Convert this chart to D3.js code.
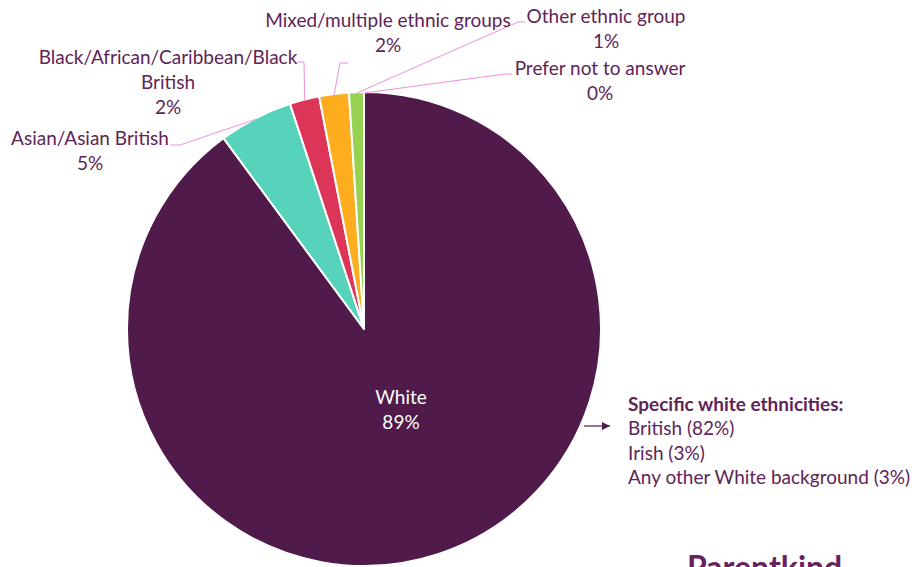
<!DOCTYPE html>
<html>
<head>
<meta charset="utf-8">
<script src="https://cdn.jsdelivr.net/npm/d3@7"></script>
<style>
  html, body { margin: 0; padding: 0; background: #fff; }
  svg { display: block; }
  text { font-family: Lato, "Open Sans", sans-serif; }
</style>
</head>
<body>
<svg id="chart" width="923" height="567"></svg>
<script>
// Ethnicity breakdown of respondents (percent)
const categories = ["White", "Asian/Asian British", "Black/African/Caribbean/Black British",
                    "Mixed/multiple ethnic groups", "Other ethnic group", "Prefer not to answer"];
const values = [89, 5, 2, 2, 1, 0];
const colors = ["#501a4a", "#56d3ba", "#dc3558", "#fdad1e", "#96d150", "#f08fe0"];

// Breakdown of the White slice
const whiteDetailTitle = "Specific white ethnicities:";
const whiteDetail = ["British (82%)", "Irish (3%)", "Any other White background (3%)"];

// Outside label layout: text lines, anchor point and elbow of the leader line
const labelLines = [
  null,
  ["Asian/Asian British"],
  ["Black/African/Caribbean/Black", "British"],
  ["Mixed/multiple ethnic groups"],
  ["Other ethnic group"],
  ["Prefer not to answer"]
];
const labelPos = [null, [90, 139], [168, 58], [388, 21], [606, 17], [600, 69]];
const leaderElbow = [null, [[170, 145], [180, 145]], [[297, 62], [304, 62]],
                     [[348, 63], [340, 63]], [[525, 22], [518, 22]], [[512, 74], [505, 74]]];

const textColor = "#5e2457";
const leaderColor = "#f08fe0";
const fontSize = 19;

const svg = d3.select("#chart");
const cx = 364, cy = 329, r = 237;

const pie = d3.pie().sort(null).value(d => d)(values);
const arc = d3.arc().innerRadius(0).outerRadius(r);

const g = svg.append("g").attr("transform", `translate(${cx},${cy})`);

g.selectAll("path.slice")
  .data(pie)
  .join("path")
  .attr("class", "slice")
  .attr("d", arc)
  .attr("fill", (d, i) => colors[i])
  .attr("stroke", "#fff")
  .attr("stroke-width", 2)
  .attr("stroke-linejoin", "round");

// Leader lines from each small slice's outer edge to its label
pie.forEach((d, i) => {
  if (i === 0) return;
  const mid = (d.startAngle + d.endAngle) / 2;
  const px = cx + Math.sin(mid) * (r - 1);
  const py = cy - Math.cos(mid) * (r - 1);
  const [a, b] = leaderElbow[i];
  svg.append("polyline")
    .attr("points", [[a[0], a[1]], [b[0], b[1]], [px, py]].map(p => p.join(",")).join(" "))
    .attr("fill", "none")
    .attr("stroke", leaderColor)
    .attr("stroke-width", 1);
});

// Outside labels: category name lines followed by the percentage
pie.forEach((d, i) => {
  if (i === 0) return;
  const [x, y] = labelPos[i];
  const lines = labelLines[i].concat([values[i] + "%"]);
  const t = svg.append("text")
    .attr("text-anchor", "middle")
    .attr("fill", textColor)
    .attr("font-size", fontSize);
  lines.forEach((ln, k) => {
    t.append("tspan").attr("x", x).attr("y", y + 6 + k * 25).text(ln);
  });
});

// Label inside the White slice
const wt = svg.append("text")
  .attr("text-anchor", "middle")
  .attr("fill", "#ffffff")
  .attr("font-size", fontSize);
wt.append("tspan").attr("x", 401).attr("y", 404).text(categories[0]);
wt.append("tspan").attr("x", 401).attr("y", 429).text(values[0] + "%");

// Arrow pointing to the White breakdown
svg.append("defs").append("marker")
  .attr("id", "arrowhead")
  .attr("viewBox", "0 0 10 10")
  .attr("refX", 10).attr("refY", 5)
  .attr("markerWidth", 8).attr("markerHeight", 8)
  .attr("markerUnits", "userSpaceOnUse")
  .attr("orient", "auto")
  .append("path")
  .attr("d", "M0,0 L10,5 L0,10 Z")
  .attr("fill", "#501a4a");

svg.append("line")
  .attr("x1", 584).attr("y1", 426)
  .attr("x2", 610).attr("y2", 426)
  .attr("stroke", "#501a4a")
  .attr("stroke-width", 1.2)
  .attr("marker-end", "url(#arrowhead)");

const dt = svg.append("text").attr("fill", textColor).attr("font-size", fontSize);
dt.append("tspan").attr("x", 628).attr("y", 411)
  .attr("font-weight", "bold").text(whiteDetailTitle);
whiteDetail.forEach((ln, k) => {
  dt.append("tspan").attr("x", 628).attr("y", 435 + k * 24.5).text(ln);
});

// Brand wordmark along the bottom edge
svg.append("text")
  .attr("x", 687).attr("y", 579)
  .attr("fill", "#6b1f5f")
  .attr("font-size", 32)
  .attr("font-weight", "bold")
  .text("Parentkind");
</script>
</body>
</html>
